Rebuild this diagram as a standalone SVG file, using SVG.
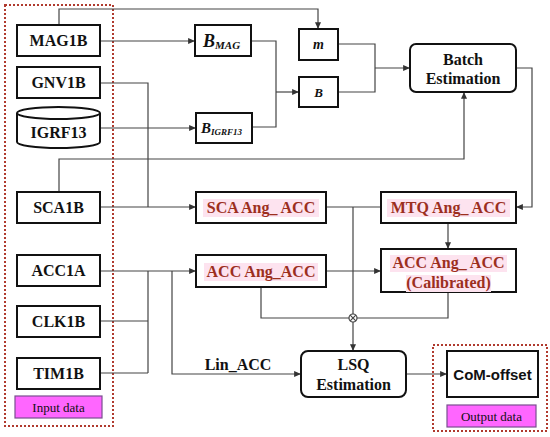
<svg xmlns="http://www.w3.org/2000/svg" width="550" height="437" viewBox="0 0 550 437">
<defs>
<marker id="arr" viewBox="0 0 8 7" refX="8" refY="3.5" markerWidth="7" markerHeight="6" markerUnits="userSpaceOnUse" orient="auto"><path d="M0,0 L8,3.5 L0,7 z" fill="#333"/></marker>
<style>
.box{fill:#fff;stroke:#111;stroke-width:2}
.t{font-family:'Liberation Serif','Times New Roman','DejaVu Serif',serif;font-weight:bold;font-size:16px;text-anchor:middle;fill:#111}
.r{font-family:'Liberation Serif','Times New Roman','DejaVu Serif',serif;font-weight:bold;font-size:16px;text-anchor:middle;fill:#9c2f1e}
.hl{fill:#fde3ef}
.mi{font-family:'Liberation Serif','Times New Roman','DejaVu Serif',serif;font-weight:bold;font-style:italic;fill:#111}
.c{fill:none;stroke:#444;stroke-width:1.2}
.dot{fill:none;stroke:#b03a2e;stroke-width:2;stroke-dasharray:2,2}
.lab{fill:#ff66ff;stroke:#7a4f8f;stroke-width:1.2}
.lt{font-family:'Liberation Serif','Times New Roman','DejaVu Serif',serif;font-size:13px;text-anchor:middle;fill:#111}
</style>
</defs>
<rect width="550" height="437" fill="#fff"/>
<g id="input-group">
<rect class="dot" x="5" y="5" width="108" height="421"/>
<rect class="lab" x="15" y="396" width="87" height="22"/>
<text class="lt" x="58.5" y="411.5">Input data</text>
</g>
<g id="output-group">
<rect class="dot" x="433" y="345" width="114" height="86"/>
<rect class="lab" x="447" y="405" width="89" height="22"/>
<text class="lt" x="491.5" y="420.5" font-size="12.5">Output data</text>
</g>
<g id="connectors">
<path class="c" d="M59,25 V9 H318 V29" marker-end="url(#arr)"/>
<path class="c" d="M100,41 H195" marker-end="url(#arr)"/>
<path class="c" d="M100,83 H148 V207"/>
<path class="c" d="M100,128 H196" marker-end="url(#arr)"/>
<path class="c" d="M59,192 V159 H464 V92" marker-end="url(#arr)"/>
<path class="c" d="M100,207 H196" marker-end="url(#arr)"/>
<path class="c" d="M251,41 H276 V127 H252"/>
<path class="c" d="M276,92 H299" marker-end="url(#arr)"/>
<path class="c" d="M338,44 H375 V92 H338"/>
<path class="c" d="M375,68 H410" marker-end="url(#arr)"/>
<path class="c" d="M516,68 H532 V207 H516" marker-end="url(#arr)"/>
<path class="c" d="M326,207 H381"/>
<path class="c" d="M353,207 V314"/>
<path class="c" d="M353,322 V351" marker-end="url(#arr)"/>
<path class="c" d="M448,223 V249" marker-end="url(#arr)"/>
<path class="c" d="M326,271 H381" marker-end="url(#arr)"/>
<path class="c" d="M448,292 V318 H357"/>
<path class="c" d="M261,287 V318 H349"/>
<circle class="c" cx="353" cy="318" r="4"/>
<path class="c" d="M350.2,315.2 L355.8,320.8 M355.8,315.2 L350.2,320.8"/>
<path class="c" d="M100,271 H196" marker-end="url(#arr)"/>
<path class="c" d="M100,321 H148 M100,373 H148 M148,271 V373"/>
<path class="c" d="M172,271 V374 H301" marker-end="url(#arr)"/>
<path class="c" d="M406,374 H447" marker-end="url(#arr)"/>
<text class="t" x="238" y="369.5">Lin_ACC</text>
</g>
<g id="MAG1B"><rect class="box" x="17" y="25" width="83" height="31"/><text class="t" x="58.5" y="46">MAG1B</text></g>
<g id="GNV1B"><rect class="box" x="17" y="67" width="83" height="31"/><text class="t" x="58.5" y="88">GNV1B</text></g>
<g id="IGRF13">
<path class="box" d="M17,113 V142 A41.5,6 0 0 0 100,142 V113"/>
<ellipse class="box" cx="58.5" cy="113" rx="41.5" ry="6"/>
<text class="t" x="58.5" y="137.5">IGRF13</text>
</g>
<g id="SCA1B"><rect class="box" x="17" y="192" width="83" height="31"/><text class="t" x="58.5" y="213">SCA1B</text></g>
<g id="ACC1A"><rect class="box" x="17" y="255" width="83" height="31"/><text class="t" x="58.5" y="276">ACC1A</text></g>
<g id="CLK1B"><rect class="box" x="17" y="306" width="83" height="31"/><text class="t" x="58.5" y="327">CLK1B</text></g>
<g id="TIM1B"><rect class="box" x="17" y="358" width="83" height="31"/><text class="t" x="58.5" y="379">TIM1B</text></g>
<g id="B_MAG"><rect class="box" x="195" y="25" width="56" height="31"/>
<text class="mi" x="203" y="47" font-size="18">B<tspan font-size="11" dy="2">MAG</tspan></text></g>
<g id="B_IGRF13"><rect class="box" x="196" y="113" width="56" height="30"/>
<text class="mi" x="201" y="133" font-size="15">B<tspan font-size="9" dy="2">IGRF13</tspan></text></g>
<g id="m"><rect class="box" x="299" y="29" width="39" height="31"/><text class="mi" x="318.5" y="49" font-size="14" text-anchor="middle">m</text></g>
<g id="B"><rect class="box" x="299" y="77" width="39" height="30"/><text class="mi" x="318.5" y="96.5" font-size="13" text-anchor="middle">B</text></g>
<g id="batch"><rect class="box" x="410" y="44" width="106" height="48" rx="6"/>
<text class="t" x="463" y="64.5">Batch</text><text class="t" x="463" y="83.5">Estimation</text></g>
<g id="SCA_Ang_ACC"><rect class="box" x="196" y="192" width="130" height="31"/>
<rect class="hl" x="203" y="199" width="116" height="18"/>
<text class="r" x="261" y="213">SCA Ang_ ACC</text></g>
<g id="MTQ_Ang_ACC"><rect class="box" x="381" y="192" width="135" height="31"/>
<rect class="hl" x="387" y="199" width="123" height="18"/>
<text class="r" x="448.5" y="213">MTQ Ang_ ACC</text></g>
<g id="ACC_Ang_ACC"><rect class="box" x="196" y="255" width="130" height="32"/>
<rect class="hl" x="204" y="263" width="114" height="18"/>
<text class="r" x="261" y="277">ACC Ang_ACC</text></g>
<g id="ACC_Calibrated"><rect class="box" x="381" y="249" width="135" height="43"/>
<rect class="hl" x="390" y="255" width="117" height="17"/>
<rect class="hl" x="406" y="275" width="85" height="17"/>
<text class="r" x="448.5" y="267.5">ACC Ang_ ACC</text><text class="r" x="448.5" y="287.5">(Calibrated)</text></g>
<g id="LSQ"><rect class="box" x="301" y="351" width="105" height="46" rx="7"/>
<text class="t" x="353.5" y="370">LSQ</text><text class="t" x="353.5" y="390">Estimation</text></g>
<g id="CoM"><rect class="box" x="447" y="351" width="91" height="46"/>
<text x="492.5" y="380" font-family="Liberation Sans, sans-serif" font-weight="bold" font-size="15" text-anchor="middle" fill="#111">CoM-offset</text></g>
</svg>
